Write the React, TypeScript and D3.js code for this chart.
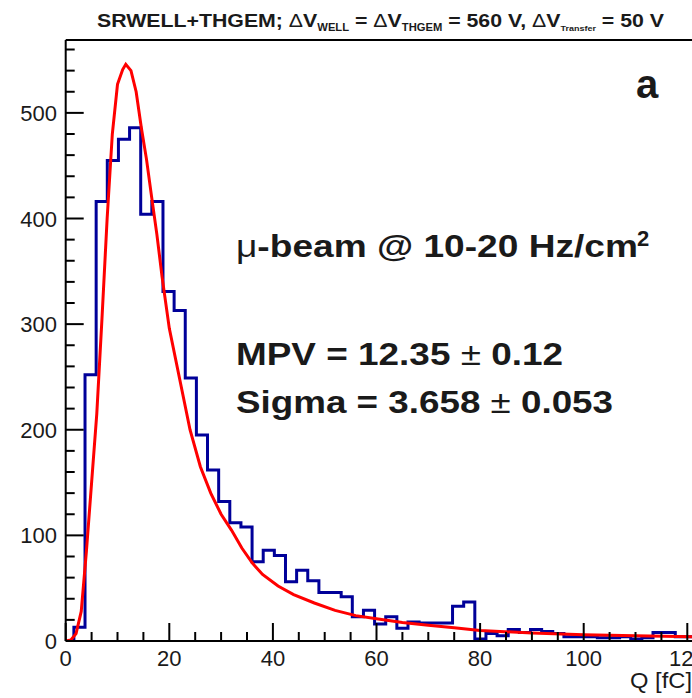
import React from 'react';
import * as d3 from 'd3';

// Histogram: first bin lower edge and bin width (fC), counts per bin
const binStart = 1.58;
const binWidth = 2.15;
const counts = [
  13, 252, 416, 455, 475, 486, 404, 416, 331, 313,
  249, 195, 162, 132, 112, 108, 75, 86, 81, 56,
  67, 57, 46, 46, 42, 23, 29, 16, 23, 12,
  18, 17, 17, 17, 33, 37, 2, 7, 5, 11,
  8, 11, 9, 7, 4, 4, 4, 3, 3, 4,
  2, 3, 8, 8, 4, 4,
];

// Landau fit curve
const fitQ = [0, 1, 2, 3, 4, 5, 6, 7, 8, 9, 10, 11, 11.6, 12.6, 13.6, 14.6, 15.6, 16.6, 17.6, 18.6, 20, 22, 24, 26, 28, 30, 32, 34, 36, 38, 41, 44, 48, 52, 56, 60, 65, 70, 75, 80, 90, 100, 110, 125];
const fitVal = [0, 1, 7, 28, 85, 150, 215, 305, 400, 480, 527, 541, 546, 540, 520, 486, 456, 420, 385, 345, 296, 248, 200, 165, 140, 120, 105, 88, 74, 63, 52, 44, 36, 29, 24, 21, 17.5, 15, 12.5, 10, 7.5, 6, 5, 3.5];

const xMajorTicks = [0, 20, 40, 60, 80, 100, 120];
const yMajorTicks = [0, 100, 200, 300, 400, 500];

export default function App() {
  const W = 692;
  const H = 698;
  const left = 65.7;
  const bottom = 641;
  const top = 40;
  const xMax = 125;
  const x = d3.scaleLinear().domain([0, xMax]).range([left, left + xMax * 5.18]);
  const y = d3.scaleLinear().domain([0, 569]).range([bottom, top]);
  const right = x(xMax);

  const xMinor = d3.range(0, xMax + 0.01, 5).filter((v) => v % 20 !== 0);
  const yMinor = d3.range(0, 569, 20).filter((v) => v % 100 !== 0);

  const lastHi = binStart + binWidth * counts.length;
  const histPts: [number, number][] = [[binStart, 0]];
  counts.forEach((c, i) => histPts.push([binStart + i * binWidth, c]));
  histPts.push([lastHi, counts[counts.length - 1]]);
  histPts.push([lastHi, 0]);
  const histLine = d3
    .line<[number, number]>()
    .x((d) => x(d[0]))
    .y((d) => y(d[1]))
    .curve(d3.curveStepAfter);

  const fitLine = d3
    .line<number>()
    .x((_, i) => x(fitQ[i]))
    .y((_, i) => y(fitVal[i]));

  const font = "'Liberation Sans', Arial, Helvetica, sans-serif";
  const txt = '#1a1a1a';

  return (
    <svg
      width={W}
      height={H}
      style={{ position: 'absolute', left: 0, top: 0, background: '#fff' }}
      fontFamily={font}
    >
      <defs>
        <clipPath id="frame">
          <rect x={left} y={top} width={right - left} height={bottom - top} />
        </clipPath>
      </defs>
      <rect x={0} y={0} width={W} height={H} fill="#fff" />

      {/* title */}
      <text
        x={97}
        y={27}
        fontSize={19}
        fontWeight="bold"
        fill={txt}
        textLength={567}
        lengthAdjust="spacingAndGlyphs"
      >
        SRWELL+THGEM; <tspan fontWeight="normal">Δ</tspan>V
        <tspan fontSize={10} dy={4}>WELL</tspan>
        <tspan dy={-4}> = </tspan>
        <tspan fontWeight="normal">Δ</tspan>V
        <tspan fontSize={10} dy={4}>THGEM</tspan>
        <tspan dy={-4}> = 560 V, </tspan>
        <tspan fontWeight="normal">Δ</tspan>V
        <tspan fontSize={8} dy={4}>Transfer</tspan>
        <tspan dy={-4}> = 50 V</tspan>
      </text>

      {/* data */}
      <g clipPath="url(#frame)">
        <path d={histLine(histPts) || ''} fill="none" stroke="#000099" strokeWidth={3} />
        <path d={fitLine(fitQ) || ''} fill="none" stroke="#ff0000" strokeWidth={3} />
      </g>

      {/* frame */}
      <line x1={left} x2={left} y1={top} y2={bottom} stroke="#000" strokeWidth={2} />
      <line x1={left} x2={right} y1={bottom} y2={bottom} stroke="#000" strokeWidth={2} />
      <line x1={left} x2={right} y1={top} y2={top} stroke="#000" strokeWidth={2} />

      {/* x ticks */}
      {xMajorTicks.map((t) => (
        <line key={'xM' + t} x1={x(t)} x2={x(t)} y1={bottom} y2={bottom - 18} stroke="#000" strokeWidth={2} />
      ))}
      {xMinor.map((t) => (
        <line key={'xm' + t} x1={x(t)} x2={x(t)} y1={bottom} y2={bottom - 9} stroke="#000" strokeWidth={2} />
      ))}
      {xMajorTicks.map((t) => (
        <text key={'xl' + t} x={x(t)} y={666} fontSize={22} textAnchor="middle" fill={txt}>
          {t}
        </text>
      ))}

      {/* y ticks */}
      {yMajorTicks.map((t) => (
        <line key={'yM' + t} x1={left} x2={left + 18} y1={y(t)} y2={y(t)} stroke="#000" strokeWidth={2} />
      ))}
      {yMinor.map((t) => (
        <line key={'ym' + t} x1={left} x2={left + 9} y1={y(t)} y2={y(t)} stroke="#000" strokeWidth={2} />
      ))}
      {yMajorTicks.map((t) => (
        <text key={'yl' + t} x={57} y={y(t) + 8} fontSize={22} textAnchor="end" fill={txt}>
          {t}
        </text>
      ))}

      {/* axis title */}
      <text x={630} y={688} fontSize={22} fill={txt} textLength={62} lengthAdjust="spacingAndGlyphs">
        Q [fC]
      </text>

      {/* annotations */}
      <text x={236} y={257} fontSize={32} fontWeight="bold" fill={txt} textLength={402} lengthAdjust="spacingAndGlyphs">
        <tspan fontWeight="normal">μ</tspan>-beam @ 10-20 Hz/cm
      </text>
      <text x={637} y={246} fontSize={22} fontWeight="bold" fill={txt}>
        2
      </text>
      <text x={236} y={365} fontSize={32} fontWeight="bold" fill={txt} textLength={327} lengthAdjust="spacingAndGlyphs">
        MPV = 12.35 <tspan fontWeight="normal">±</tspan> 0.12
      </text>
      <text x={236} y={413} fontSize={32} fontWeight="bold" fill={txt} textLength={377} lengthAdjust="spacingAndGlyphs">
        Sigma = 3.658 <tspan fontWeight="normal">±</tspan> 0.053
      </text>
      <text x={636} y={98} fontSize={40} fontWeight="bold" fill={txt}>
        a
      </text>
    </svg>
  );
}
